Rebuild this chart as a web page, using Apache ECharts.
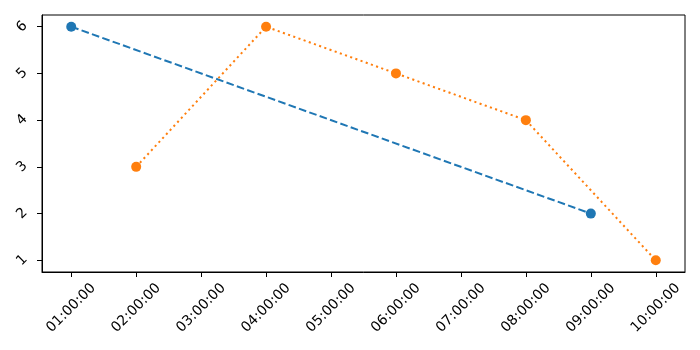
<!DOCTYPE html>
<html><head><meta charset="utf-8">
<script src="https://cdn.jsdelivr.net/npm/echarts@6/dist/echarts.min.js"></script>
<style>html,body{margin:0;padding:0;background:#fff}#c{width:700px;height:350px}</style>
</head><body><div id="c"></div>
<script>
const tickLabels = ["01:00:00","02:00:00","03:00:00","04:00:00","05:00:00","06:00:00","07:00:00","08:00:00","09:00:00","10:00:00"];
const seriesATimes = ["01:00:00","09:00:00"];
const seriesAValues = [6, 2];
const seriesBTimes = ["02:00:00","04:00:00","06:00:00","08:00:00","10:00:00"];
const seriesBValues = [3, 6, 5, 4, 1];
const yTicks = [1,2,3,4,5,6];

const toH = s => { const p = s.split(':').map(Number); return p[0] + p[1]/60 + p[2]/3600; };
const fmt = h => { const hh = Math.round(h); return String(hh).padStart(2,'0') + ':00:00'; };
const tickVals = tickLabels.map(toH);

const chart = echarts.init(document.getElementById('c'), null, {renderer:'canvas'});
const font = 'DejaVu Sans';
const axisLine = {show:true, onZero:false, lineStyle:{color:'#000', width:1}};
chart.setOption({
  animation:false,
  grid:{left:42, right:15, top:15, bottom:78, show:true, borderColor:'#000', borderWidth:1},
  xAxis:{type:'value', min:0.55, max:10.45,
    axisLine:axisLine,
    axisTick:{show:true, length:5, inside:false, customValues:tickVals, lineStyle:{color:'#000'}},
    axisLabel:{customValues:tickVals, rotate:45, align:'center', verticalAlign:'middle', formatter:v=>fmt(v), color:'#000', fontFamily:font, fontSize:14, margin:36},
    splitLine:{show:false}},
  yAxis:{type:'value', min:0.75, max:6.25,
    axisLine:axisLine,
    axisTick:{show:true, length:5, customValues:yTicks, lineStyle:{color:'#000'}},
    axisLabel:{customValues:yTicks, rotate:45, align:'center', verticalAlign:'middle', color:'#000', fontFamily:font, fontSize:14, margin:20},
    splitLine:{show:false}},
  series:[
    {type:'line', data:seriesATimes.map((t,i)=>[toH(t), seriesAValues[i]]),
     symbol:'circle', symbolSize:10, itemStyle:{color:'#1f77b4'},
     lineStyle:{color:'#1f77b4', width:2, type:[7.7,3.3]}},
    {type:'line', data:seriesBTimes.map((t,i)=>[toH(t), seriesBValues[i]]),
     symbol:'circle', symbolSize:10, itemStyle:{color:'#ff7f0e'},
     lineStyle:{color:'#ff7f0e', width:2, type:[2.1,3.4]}}
  ]
});
</script></body></html>
